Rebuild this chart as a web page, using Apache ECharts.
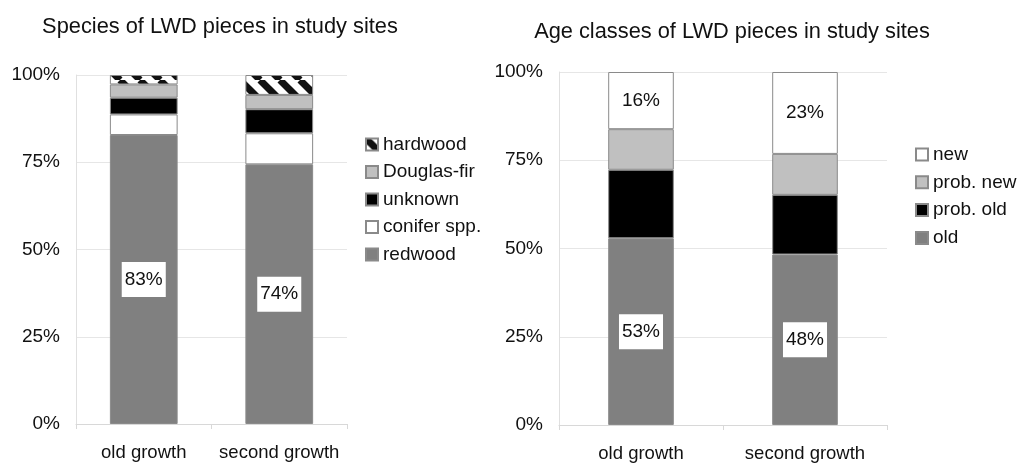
<!DOCTYPE html>
<html><head><meta charset="utf-8">
<script src="https://cdn.jsdelivr.net/npm/echarts@6/dist/echarts.min.js"></script>
<style>html,body{margin:0;padding:0;background:#fff}#c{width:1019px;height:464px}</style>
</head><body><div id="c"></div>
<script>
const categories = ['old growth', 'second growth'];
const tickLabels = ['0%', '25%', '50%', '75%', '100%'];
// Species chart
const redwood = [82.8, 74.4];
const conifer = [5.9, 8.9];
const unknown = [4.8, 6.9];
const douglas = [3.8, 4.1];
const hardwood = [2.7, 5.7];
// Age chart
const oldAge = [52.9, 48.3];
const probOld = [19.4, 16.9];
const probNew = [11.5, 11.6];
const newAge = [16.2, 23.2];

const cv = document.createElement('canvas');
cv.width = 20; cv.height = 20;
const g = cv.getContext('2d');
g.fillStyle = '#fff'; g.fillRect(0,0,20,20);
g.strokeStyle = '#111'; g.lineWidth = 7;
for (let k = -20; k <= 40; k += 20) {
  g.beginPath(); g.moveTo(k, 0); g.lineTo(k + 20, 20); g.stroke();
}
const hatch = { image: cv, repeat: 'repeat' };

const font = 'Liberation Sans, Arial, sans-serif';
const lbl = {
  show: true, position: 'inside', color: '#111', fontSize: 19, fontFamily: font,
  backgroundColor: '#fff', padding: [8, 3],
  formatter: p => Math.round(p.value) + '%'
};
function bar(name, data, color, axis, width, withLabel, border) {
  return {
    name, type: 'bar', stack: 's' + axis, data, xAxisIndex: axis, yAxisIndex: axis,
    barWidth: width,
    itemStyle: { color, borderColor: border || '#8a8a8a', borderWidth: 1 },
    label: withLabel ? lbl : { show: false },
    emphasis: { disabled: true }
  };
}
const xAx = i => ({
  type: 'category', data: categories, gridIndex: i,
  axisLine: { lineStyle: { color: '#d8d8d8' } },
  axisTick: { show: true, alignWithLabel: false, length: 5, lineStyle: { color: '#d8d8d8' } },
  axisLabel: { color: '#111', fontSize: 18.5, fontFamily: font, margin: 19, interval: 0, hideOverlap: false }
});
const yAx = i => ({
  type: 'value', gridIndex: i, min: 0, max: 100, interval: 25,
  axisLine: { show: true, lineStyle: { color: '#e0e0e0' } },
  axisTick: { show: false },
  splitLine: { lineStyle: { color: '#e6e6e6' } },
  axisLabel: { color: '#111', fontSize: 19, fontFamily: font, margin: 16,
    formatter: v => tickLabels[Math.round(v / 25)] }
});
const legText = { color: '#111', fontSize: 19, fontFamily: font };
const chart = echarts.init(document.getElementById('c'));
chart.setOption({
  animation: false,
  title: [
    { text: 'Species of LWD pieces in study sites', left: 215, top: 11, textAlign: 'center',
      textStyle: { fontSize: 21.8, fontWeight: 'normal', color: '#111', fontFamily: font } },
    { text: 'Age classes of LWD pieces in study sites', left: 727, top: 16, textAlign: 'center',
      textStyle: { fontSize: 21.8, fontWeight: 'normal', color: '#111', fontFamily: font } }
  ],
  grid: [
    { left: 76, right: 672, top: 75, bottom: 40 },
    { left: 559, right: 132, top: 72, bottom: 39 }
  ],
  xAxis: [xAx(0), xAx(1)],
  yAxis: [yAx(0), yAx(1)],
  legend: [
    { orient: 'vertical', left: 365, top: 135, itemWidth: 12, itemHeight: 12, itemGap: 8.5,
      icon: 'rect', textStyle: legText, padding: 0,
      data: ['hardwood', 'Douglas-fir', 'unknown', 'conifer spp.', 'redwood'] },
    { orient: 'vertical', left: 915, top: 145, itemWidth: 12, itemHeight: 12, itemGap: 8.8,
      icon: 'rect', textStyle: legText, padding: 0,
      data: ['new', 'prob. new', 'prob. old', 'old'] }
  ],
  series: [
    bar('redwood', redwood, '#808080', 0, '50%', true),
    bar('conifer spp.', conifer, '#ffffff', 0, '50%', false),
    bar('unknown', unknown, '#000000', 0, '50%', false),
    bar('Douglas-fir', douglas, '#c0c0c0', 0, '50%', false),
    bar('hardwood', hardwood, hatch, 0, '50%', false),
    bar('old', oldAge, '#808080', 1, '40%', true),
    bar('prob. old', probOld, '#000000', 1, '40%', false),
    bar('prob. new', probNew, '#c0c0c0', 1, '40%', false),
    bar('new', newAge, '#ffffff', 1, '40%', true)
  ]
});
</script></body></html>
